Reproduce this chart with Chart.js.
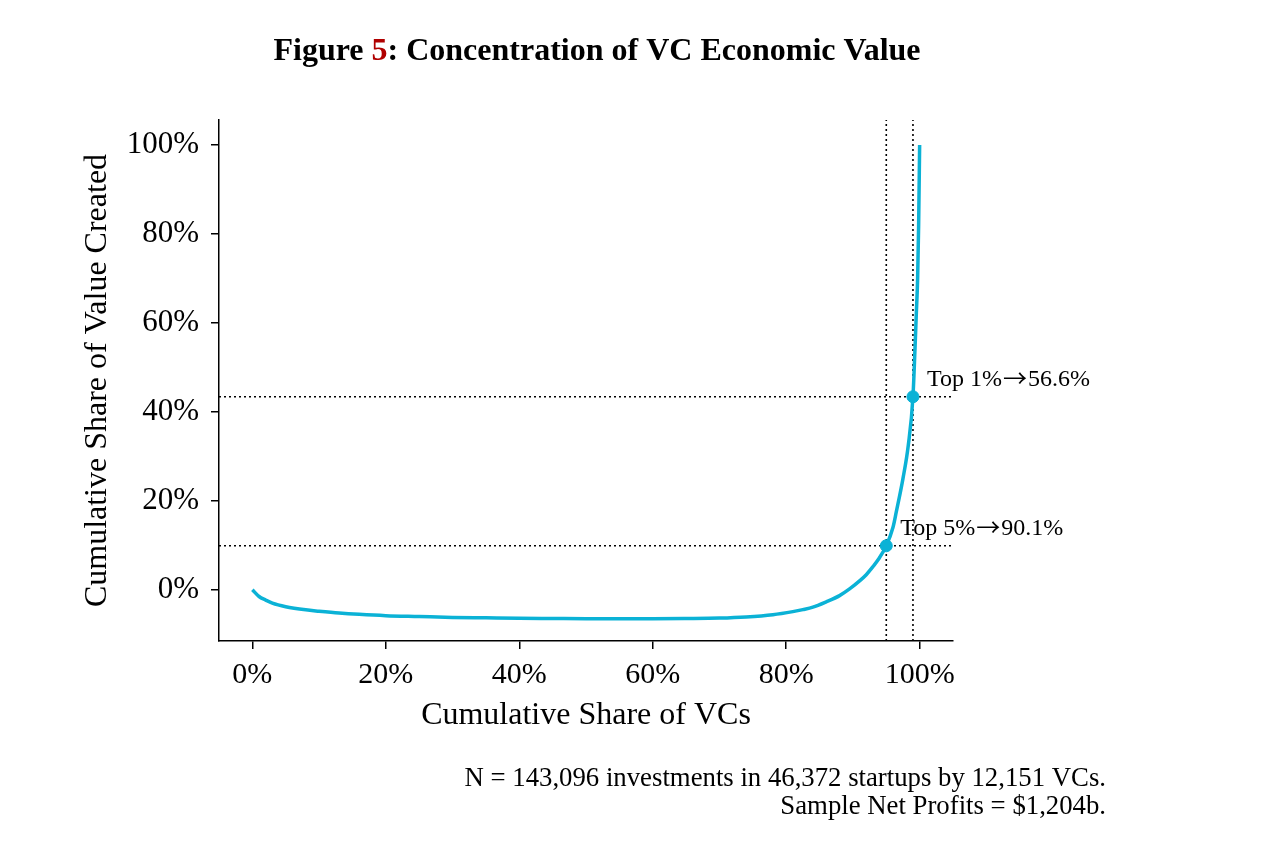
<!DOCTYPE html>
<html><head><meta charset="utf-8">
<script src="https://cdn.jsdelivr.net/npm/chart.js@4.4.1/dist/chart.umd.min.js"></script>
<style>html,body{margin:0;padding:0;background:#fff;}canvas{display:block;}</style>
</head><body>
<canvas id="c" width="1262" height="853"></canvas>
<script>
// ---- data ----
const shareVCs   = [0, 1, 2, 3, 5, 8, 10, 13, 16, 20, 25, 30, 35, 40, 45, 50, 55, 60, 65, 70, 74, 78, 81, 82.5, 84, 86, 88, 89.5, 91, 92, 93, 93.8, 95, 96, 96.5, 97.5, 98.3, 99, 99.3, 99.5, 99.7, 99.85, 100];
const shareValue = [0, -1.5, -2.3, -3.0, -3.8, -4.5, -4.8, -5.2, -5.5, -5.8, -6.0, -6.2, -6.3, -6.4, -6.45, -6.5, -6.5, -6.5, -6.45, -6.35, -6.1, -5.6, -4.9, -4.45, -3.9, -2.7, -1.3, 0.2, 2.0, 3.4, 5.2, 6.8, 9.9, 14.0, 17.5, 25.0, 32.5, 43.4, 54, 62, 70, 82, 100];
const xTicks = [0, 20, 40, 60, 80, 100];
const yTicks = [0, 20, 40, 60, 80, 100];
const markerX = [95, 99];
const markerY = [9.9, 43.4];
const markerLabels = ['Top 5%\u219290.1%', 'Top 1%\u219256.6%'];
const xRange = [-5, 105];
const yRange = [-11.5, 105.6];
const titleParts = ['Figure ', '5', ': Concentration of VC Economic Value'];
const xTitle = 'Cumulative Share of VCs';
const yTitle = 'Cumulative Share of Value Created';
const noteLines = ['N = 143,096 investments in 46,372 startups by 12,151 VCs.', 'Sample Net Profits = $1,204b.'];

const SERIF = "'Liberation Serif', 'Times New Roman', serif";
const LINE_COLOR = '#0bb2d6';

const curve = shareVCs.map((x, i) => ({x, y: shareValue[i]}));
const markers = markerX.map((x, i) => ({x, y: markerY[i]}));
const dotted = {borderColor: '#000', borderWidth: 1.6, borderDash: [2, 3], pointRadius: 0, fill: false, showLine: true, order: 3};
const refSets = [];
markerX.forEach(x => refSets.push(Object.assign({data: [{x, y: yRange[0]}, {x, y: yRange[1]}]}, dotted)));
markerY.forEach(y => refSets.push(Object.assign({data: [{x: xRange[0], y}, {x: xRange[1], y}]}, dotted)));

const decor = {
  id: 'decor',
  afterDraw(chart) {
    const ctx = chart.ctx;
    const xs = chart.scales.x, ys = chart.scales.y;
    ctx.save();
    // title
    ctx.font = 'bold 32px ' + SERIF;
    ctx.textBaseline = 'alphabetic';
    ctx.textAlign = 'left';
    const widths = titleParts.map(t => ctx.measureText(t).width);
    const total = widths.reduce((a, b) => a + b, 0);
    let tx = 597 - total / 2;
    titleParts.forEach((t, i) => {
      ctx.fillStyle = i === 1 ? '#b00000' : '#000';
      ctx.fillText(t, tx, 60);
      tx += widths[i];
    });
    // annotations (arrow drawn in a font with a thin full-width arrow glyph)
    ctx.fillStyle = '#000';
    const textFont = '24px ' + SERIF;
    const arrowFont = '24px "Noto Sans CJK JP", "DejaVu Sans"';
    markerLabels.forEach((lab, i) => {
      const px = xs.getPixelForValue(markerX[i]);
      const py = ys.getPixelForValue(markerY[i]);
      let ax = px + 14;
      const by = py - 11;
      const parts = lab.split('\u2192');
      ctx.font = textFont;
      ctx.fillText(parts[0], ax, by);
      ax += ctx.measureText(parts[0]).width + 1;
      ctx.font = arrowFont;
      ctx.fillText('\u2192', ax, by + 1);
      ax += ctx.measureText('\u2192').width + 1;
      ctx.font = textFont;
      ctx.fillText(parts[1], ax, by);
    });
    // footnote
    ctx.font = '26.75px ' + SERIF;
    ctx.textAlign = 'right';
    ctx.fillText(noteLines[0], 1106, 786);
    ctx.fillText(noteLines[1], 1106, 814);
    ctx.restore();
  }
};

new Chart(document.getElementById('c'), {
  type: 'scatter',
  data: {
    datasets: [
      {data: curve, showLine: true, borderColor: LINE_COLOR, borderWidth: 3.5, pointRadius: 0, cubicInterpolationMode: 'monotone', fill: false, order: 2},
      {data: markers, showLine: false, backgroundColor: LINE_COLOR, borderColor: LINE_COLOR, pointRadius: 6, order: 1},
      ...refSets
    ]
  },
  options: {
    responsive: false,
    devicePixelRatio: 1,
    animation: false,
    layout: {padding: {left: 60, right: 309, top: 120, bottom: 118}},
    plugins: {legend: {display: false}, tooltip: {enabled: false}, title: {display: false}},
    scales: {
      x: {
        type: 'linear', min: xRange[0], max: xRange[1],
        afterBuildTicks: s => { s.ticks = xTicks.map(v => ({value: v})); },
        afterFit: s => { s.height = 94; },
        ticks: {callback: v => v + '%', color: '#000', font: {family: SERIF, size: 30}, padding: 8, maxRotation: 0, autoSkip: false},
        grid: {display: true, drawOnChartArea: false, drawTicks: true, tickLength: 8, color: '#000', lineWidth: 1.5},
        border: {display: true, color: '#000', width: 1.5},
        title: {display: true, text: xTitle, color: '#000', font: {family: SERIF, size: 32}, padding: {top: 0, bottom: 0}}
      },
      y: {
        type: 'linear', min: yRange[0], max: yRange[1],
        afterBuildTicks: s => { s.ticks = yTicks.map(v => ({value: v})); },
        afterFit: s => { s.width = 159; },
        ticks: {callback: v => v + '%', color: '#000', font: {family: SERIF, size: 31}, padding: 12, autoSkip: false},
        grid: {display: true, drawOnChartArea: false, drawTicks: true, tickLength: 8, color: '#000', lineWidth: 1.5},
        border: {display: true, color: '#000', width: 1.5},
        title: {display: true, text: yTitle, color: '#000', font: {family: SERIF, size: 32}, padding: {top: 18, bottom: 0}}
      }
    }
  },
  plugins: [decor]
});
</script>
</body></html>
